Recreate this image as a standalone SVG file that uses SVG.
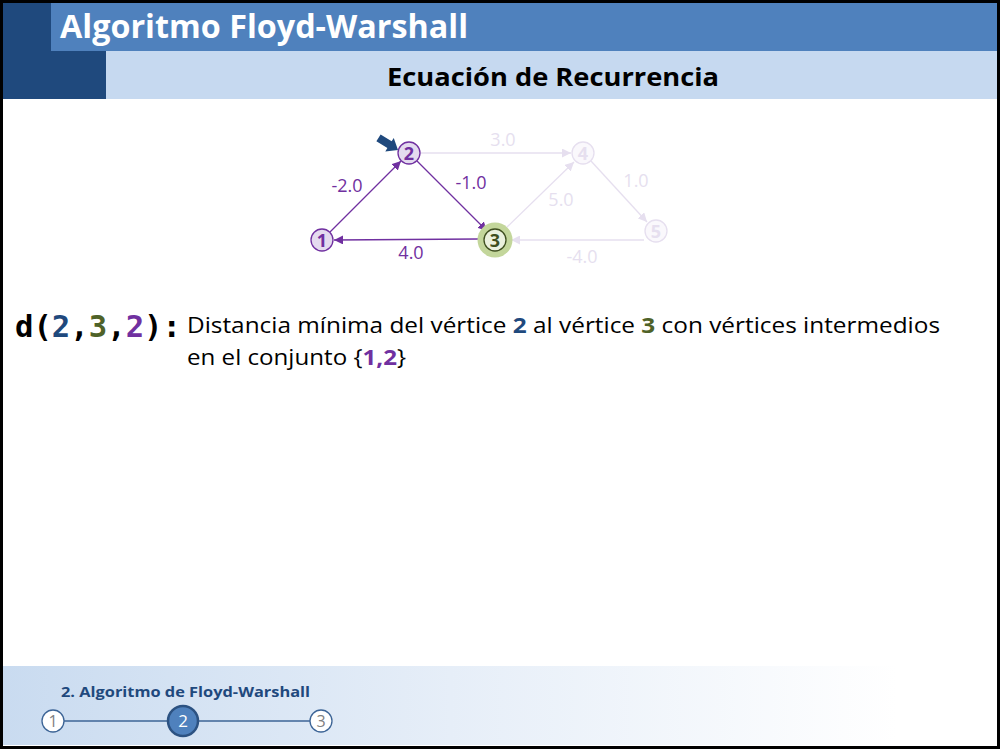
<svg xmlns="http://www.w3.org/2000/svg" width="1000" height="750" viewBox="0 0 1000 750">
  <style>
    .title { font-family: "Open Sans", "Liberation Sans", sans-serif; font-weight: bold; }
    .body { font-family: "Open Sans", "Liberation Sans", sans-serif; }
    .edge { fill: none; stroke-width: 1.3; }
    .on { stroke: #7030A0; }
    .off { stroke: #E6DFEF; }
    .lbl { font-family: "Open Sans", "Liberation Sans", sans-serif; font-size: 18px; text-anchor: middle; }
    .lbl-on { fill: #7030A0; }
    .lbl-off { fill: #E6DFEF; }
    .num { font-family: "Open Sans", "Liberation Sans", sans-serif; font-weight: bold; font-size: 18px; text-anchor: middle; }
    .mono { font-family: "DejaVu Sans Mono", "Liberation Mono", monospace; font-weight: bold; }
  </style>
  <defs>
    <marker id="ah-on" viewBox="0 0 10 10" refX="10" refY="5" markerWidth="9" markerHeight="9" markerUnits="userSpaceOnUse" orient="auto">
      <path d="M0,0 L10,5 L0,10 Z" fill="#7030A0"/>
    </marker>
    <marker id="ah-off" viewBox="0 0 10 10" refX="10" refY="5" markerWidth="9" markerHeight="9" markerUnits="userSpaceOnUse" orient="auto">
      <path d="M0,0 L10,5 L0,10 Z" fill="#E6DFEF"/>
    </marker>
    <linearGradient id="footerFade" x1="0" y1="0" x2="1" y2="0">
      <stop offset="0" stop-color="#C9DBF0"/>
      <stop offset="0.45" stop-color="#E6EEF8"/>
      <stop offset="0.9" stop-color="#FFFFFF"/>
      <stop offset="1" stop-color="#FFFFFF"/>
    </linearGradient>
  </defs>

  <!-- page background -->
  <rect x="0" y="0" width="1000" height="750" fill="#FFFFFF"/>

  <!-- header bands -->
  <g id="header">
    <rect x="3" y="3" width="103" height="96" fill="#1F497D"/>
    <rect x="51" y="3" width="946" height="48" fill="#4F81BD"/>
    <rect x="106" y="51" width="891" height="48" fill="#C6D9F0"/>
    <text class="title" x="60" y="38" font-size="32" fill="#FFFFFF" textLength="408" lengthAdjust="spacingAndGlyphs">Algoritmo Floyd-Warshall</text>
    <text class="title" x="553" y="86" font-size="25" fill="#000000" text-anchor="middle" textLength="332" lengthAdjust="spacingAndGlyphs">Ecuación de Recurrencia</text>
  </g>

  <!-- footer -->
  <g id="footer">
    <rect x="3" y="666" width="994" height="79" fill="url(#footerFade)"/>
    <text class="title" x="61" y="697" font-size="15" fill="#1F497D" textLength="249" lengthAdjust="spacingAndGlyphs">2. Algoritmo de Floyd-Warshall</text>
    <line x1="64" y1="721" x2="168" y2="721" stroke="#3C6496" stroke-width="1.3"/>
    <line x1="198" y1="721" x2="310" y2="721" stroke="#3C6496" stroke-width="1.3"/>
    <g id="step1">
      <circle cx="53" cy="721" r="11" fill="#FFFFFF" stroke="#3C6496" stroke-width="1.3"/>
      <text class="body" x="53" y="727" font-size="16" fill="#808080" text-anchor="middle">1</text>
    </g>
    <g id="step2">
      <circle cx="183" cy="721" r="15" fill="#4F81BD" stroke="#2C5282" stroke-width="2.5"/>
      <text class="body" x="183" y="727" font-size="17" fill="#FFFFFF" text-anchor="middle">2</text>
    </g>
    <g id="step3">
      <circle cx="321" cy="721" r="11" fill="#FFFFFF" stroke="#3C6496" stroke-width="1.3"/>
      <text class="body" x="321" y="727" font-size="16" fill="#808080" text-anchor="middle">3</text>
    </g>
  </g>

  <!-- graph connectors -->
  <g id="connectors">
    <line class="edge off" x1="420" y1="153" x2="571" y2="153" marker-end="url(#ah-off)"/>
    <line class="edge off" x1="505" y1="229" x2="574" y2="162" marker-end="url(#ah-off)"/>
    <line class="edge off" x1="591" y1="161" x2="647" y2="222" marker-end="url(#ah-off)"/>
    <line class="edge off" x1="644" y1="240" x2="511" y2="240" marker-end="url(#ah-off)"/>
    <line class="edge on" x1="330" y1="232" x2="401" y2="161" marker-end="url(#ah-on)"/>
    <line class="edge on" x1="417" y1="161" x2="487" y2="231" marker-end="url(#ah-on)"/>
    <line class="edge on" x1="478" y1="239" x2="334" y2="240" marker-end="url(#ah-on)"/>

    <text class="lbl lbl-off" x="503" y="146">3.0</text>
    <text class="lbl lbl-off" x="561" y="206">5.0</text>
    <text class="lbl lbl-off" x="636" y="187">1.0</text>
    <text class="lbl lbl-off" x="582" y="263">-4.0</text>
    <text class="lbl lbl-on" x="347" y="192">-2.0</text>
    <text class="lbl lbl-on" x="471" y="189">-1.0</text>
    <text class="lbl lbl-on" x="411" y="259">4.0</text>
  </g>

  <!-- graph nodes -->
  <g id="node-4">
    <circle cx="583" cy="153" r="11" fill="#FAF8FC" stroke="#E6DFEF" stroke-width="1.3"/>
    <text class="num" x="583" y="159.5" fill="#E6DFEF">4</text>
  </g>
  <g id="node-5">
    <circle cx="656" cy="231" r="11" fill="#FAF8FC" stroke="#E6DFEF" stroke-width="1.3"/>
    <text class="num" x="656" y="237.5" fill="#E6DFEF">5</text>
  </g>
  <g id="node-1">
    <circle cx="322" cy="240" r="11" fill="#E4DBEF" stroke="#7030A0" stroke-width="1.3"/>
    <text class="num" x="322" y="246.5" fill="#7030A0">1</text>
  </g>
  <g id="node-2">
    <circle cx="409" cy="153" r="11" fill="#E4DBEF" stroke="#7030A0" stroke-width="1.3"/>
    <text class="num" x="409" y="159.5" fill="#7030A0">2</text>
  </g>
  <g id="node-3">
    <circle cx="495" cy="240" r="17.5" fill="#C3D69B"/>
    <circle cx="495" cy="240" r="11" fill="#EBF1DE" stroke="#3F4F20" stroke-width="1.3"/>
    <text class="num" x="495" y="246.5" fill="#3F4F20">3</text>
  </g>

  <!-- pointer marking the source vertex -->
  <g id="pointer">
    <polygon transform="translate(398,150) rotate(32)" points="0,0 -10,-8 -10,-4 -23,-4 -23,4 -10,4 -10,8" fill="#1F497D"/>
  </g>

  <!-- definition text -->
  <g id="definition">
    <text class="mono" x="15" y="337" font-size="30" textLength="166" lengthAdjust="spacingAndGlyphs"><tspan fill="#000000">d(</tspan><tspan fill="#1F497D">2</tspan><tspan fill="#000000">,</tspan><tspan fill="#4F6228">3</tspan><tspan fill="#000000">,</tspan><tspan fill="#7030A0">2</tspan><tspan fill="#000000">):</tspan></text>
    <text class="body" x="187" y="333" font-size="21" fill="#000000" textLength="753" lengthAdjust="spacingAndGlyphs">Distancia mínima del vértice <tspan font-weight="bold" fill="#1F497D">2</tspan> al vértice <tspan font-weight="bold" fill="#4F6228">3</tspan> con vértices intermedios</text>
    <text class="body" x="187" y="365" font-size="21" fill="#000000" textLength="219" lengthAdjust="spacingAndGlyphs">en el conjunto {<tspan font-weight="bold" fill="#7030A0">1,2</tspan>}</text>
  </g>

  <!-- outer frame -->
  <rect x="1.5" y="1.5" width="997" height="746" fill="none" stroke="#000000" stroke-width="3"/>
</svg>
